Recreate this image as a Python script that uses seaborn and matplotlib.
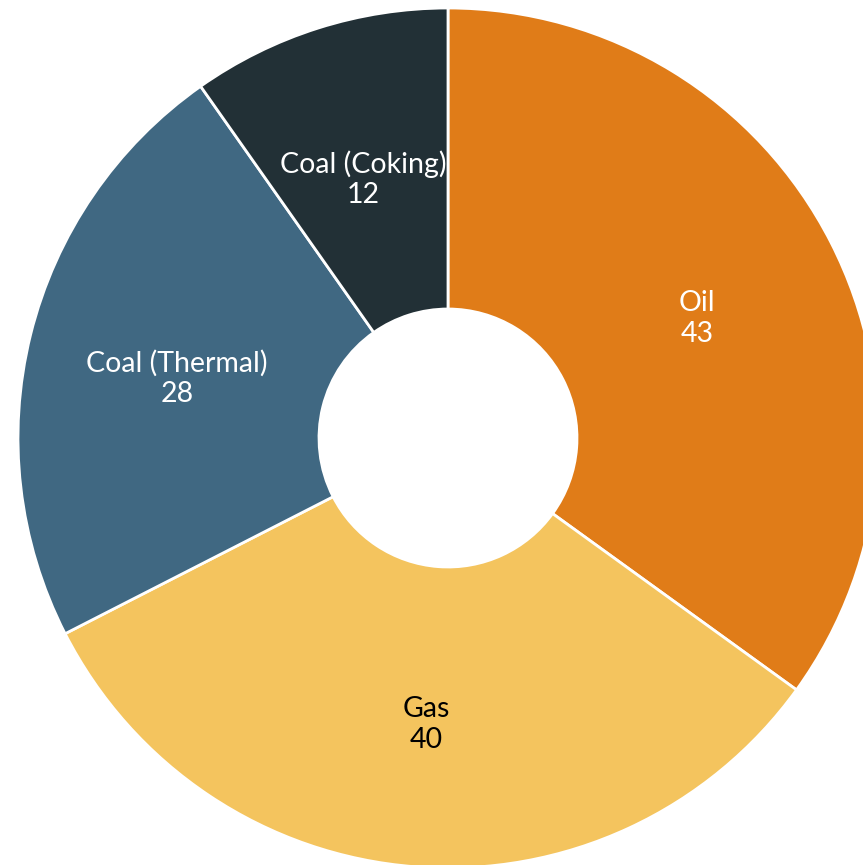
import matplotlib
matplotlib.use("Agg")
import matplotlib.pyplot as plt
import seaborn as sns

labels = ["Oil", "Gas", "Coal (Thermal)", "Coal (Coking)"]
values = [43, 40, 28, 12]
colors = ["#E07C18", "#F4C45E", "#406882", "#223036"]
text_colors = ["white", "black", "white", "white"]

sns.set_theme(style="white")
plt.rcParams["font.family"] = ["Lato", "DejaVu Sans"]

fig = plt.figure(figsize=(8.63, 8.65), dpi=100)
ax = fig.add_axes([18 / 863, -3 / 865, 860 / 863, 860 / 865])

wedges, texts = ax.pie(
    values,
    colors=colors,
    startangle=90,
    counterclock=False,
    radius=1,
    labels=[f"{l}\n{v}" for l, v in zip(labels, values)],
    labeldistance=0.65,
    wedgeprops=dict(width=0.70, edgecolor="white", linewidth=2),
    textprops=dict(fontsize=20.5, ha="center", va="center", linespacing=1.2),
)
# labels sit a little lower in the reference
for t, c in zip(texts, text_colors):
    t.set_color(c)
    t.set_horizontalalignment("center")
    x, y = t.get_position()
    t.set_position((x, y - 0.018))

ax.set_xlim(-1, 1)
ax.set_ylim(-1, 1)
ax.set_aspect("equal")
ax.axis("off")

fig.savefig("out.png", dpi=100)
